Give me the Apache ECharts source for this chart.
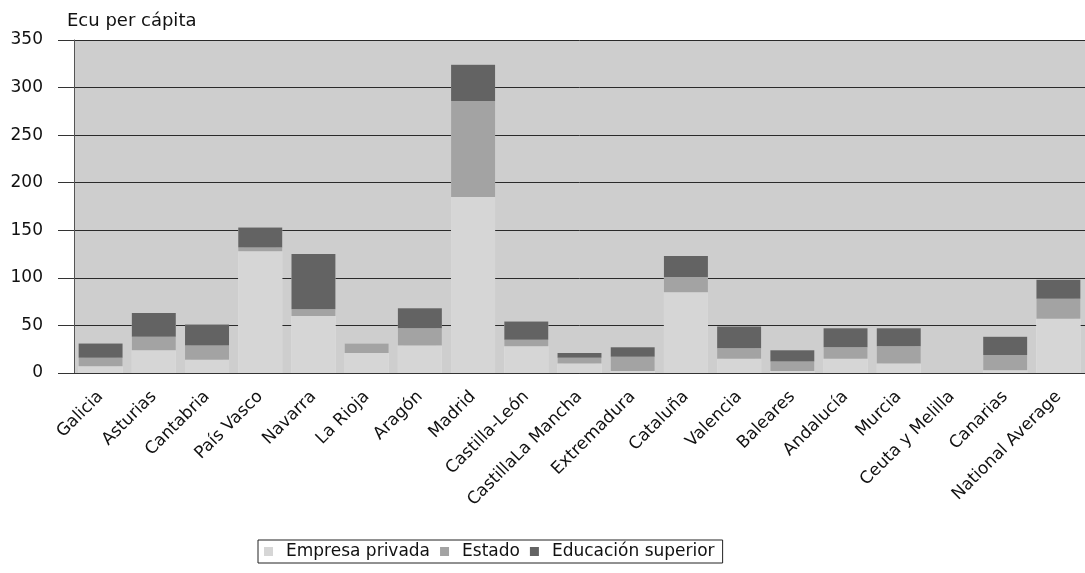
<!DOCTYPE html>
<html>
<head>
<meta charset="utf-8">
<script src="https://cdn.jsdelivr.net/npm/echarts@6/dist/echarts.min.js"></script>
<style>
  html, body { margin: 0; padding: 0; background: #fff; }
  #chart { width: 1085px; height: 573px; }
</style>
</head>
<body>
<div id="chart"></div>
<script>
// regiones
const regions = ['Galicia', 'Asturias', 'Cantabria', 'País Vasco', 'Navarra', 'La Rioja', 'Aragón', 'Madrid',
  'Castilla-León', 'CastillaLa Mancha', 'Extremadura', 'Cataluña', 'Valencia', 'Baleares', 'Andalucía',
  'Murcia', 'Ceuta y Melilla', 'Canarias', 'National Average'];
const empresaPrivada = [7, 24, 14, 128, 60, 21, 29, 185, 28, 10, 2, 85, 15, 2, 15, 10, 0, 3, 57];
const estado = [9, 14, 15, 4, 7, 10, 18, 101, 7, 6, 15, 16, 11, 10, 12, 18, 0, 16, 21];
const educacionSuperior = [15, 25, 22, 21, 58, 0, 21, 38, 19, 5, 10, 22, 23, 12, 20, 19, 0, 19, 20];
const yTicks = [0, 50, 100, 150, 200, 250, 300, 350];

// total de cada barra, para el borde claro que rodea las columnas
const totals = regions.map((r, i) => {
  const t = empresaPrivada[i] + estado[i] + educacionSuperior[i];
  return t > 0 ? t : '-';
});

const font = '"DejaVu Sans", sans-serif';
const chart = echarts.init(document.getElementById('chart'));

const option = {
  animation: false,
  title: {
    text: 'Ecu per cápita',
    left: 62, top: 7,
    textStyle: { fontFamily: font, fontSize: 18, fontWeight: 'normal', color: '#111' }
  },
  legend: {
    data: ['Empresa privada', 'Estado', 'Educación superior'],
    left: 258, top: 540,
    icon: 'rect',
    itemWidth: 9, itemHeight: 9, itemGap: 10,
    borderColor: '#222', borderWidth: 1, padding: [3, 8, 3, 6],
    textStyle: { fontFamily: font, fontSize: 17, color: '#111', padding: [0, 0, 0, 8] }
  },
  grid: {
    left: 74, right: -10, top: 40, bottom: 200,
    show: true, backgroundColor: '#cecece', borderWidth: 0
  },
  xAxis: [{
    type: 'category',
    data: regions,
    axisLine: { lineStyle: { color: '#333', width: 1 } },
    axisTick: { alignWithLabel: true, length: 12, lineStyle: { color: '#333' } },
    axisLabel: { rotate: 45, margin: 21, fontFamily: font, fontSize: 17, color: '#111', interval: 0 }
  }, {
    type: 'category',
    data: regions,
    show: false
  }],
  yAxis: {
    type: 'value',
    min: 0, max: 350, interval: 50,
    axisLine: { show: true, lineStyle: { color: '#555', width: 1 } },
    axisTick: { show: true, length: 16, lineStyle: { color: '#333' } },
    axisLabel: {
      margin: 31, fontFamily: font, fontSize: 17, color: '#111',
      formatter: v => yTicks.indexOf(v) >= 0 ? String(v) : ''
    },
    splitLine: { lineStyle: { color: '#2a2a2a', width: 1 } }
  },
  series: [
    {
      name: 'halo', type: 'bar', xAxisIndex: 1, barWidth: 44, z: 1,
      data: totals,
      itemStyle: { color: '#dedede', borderColor: '#e6e6e6', borderWidth: 6 },
      silent: true
    },
    {
      name: 'Empresa privada', type: 'bar', stack: 'total', barWidth: 44, z: 3,
      data: empresaPrivada, itemStyle: { color: '#d6d6d6' }
    },
    {
      name: 'Estado', type: 'bar', stack: 'total', barWidth: 44, z: 3,
      data: estado, itemStyle: { color: '#a3a3a3' }
    },
    {
      name: 'Educación superior', type: 'bar', stack: 'total', barWidth: 44, z: 3,
      data: educacionSuperior, itemStyle: { color: '#636363' }
    }
  ]
};

chart.setOption(option);
window.addEventListener('resize', () => chart.resize());
</script>
</body>
</html>
